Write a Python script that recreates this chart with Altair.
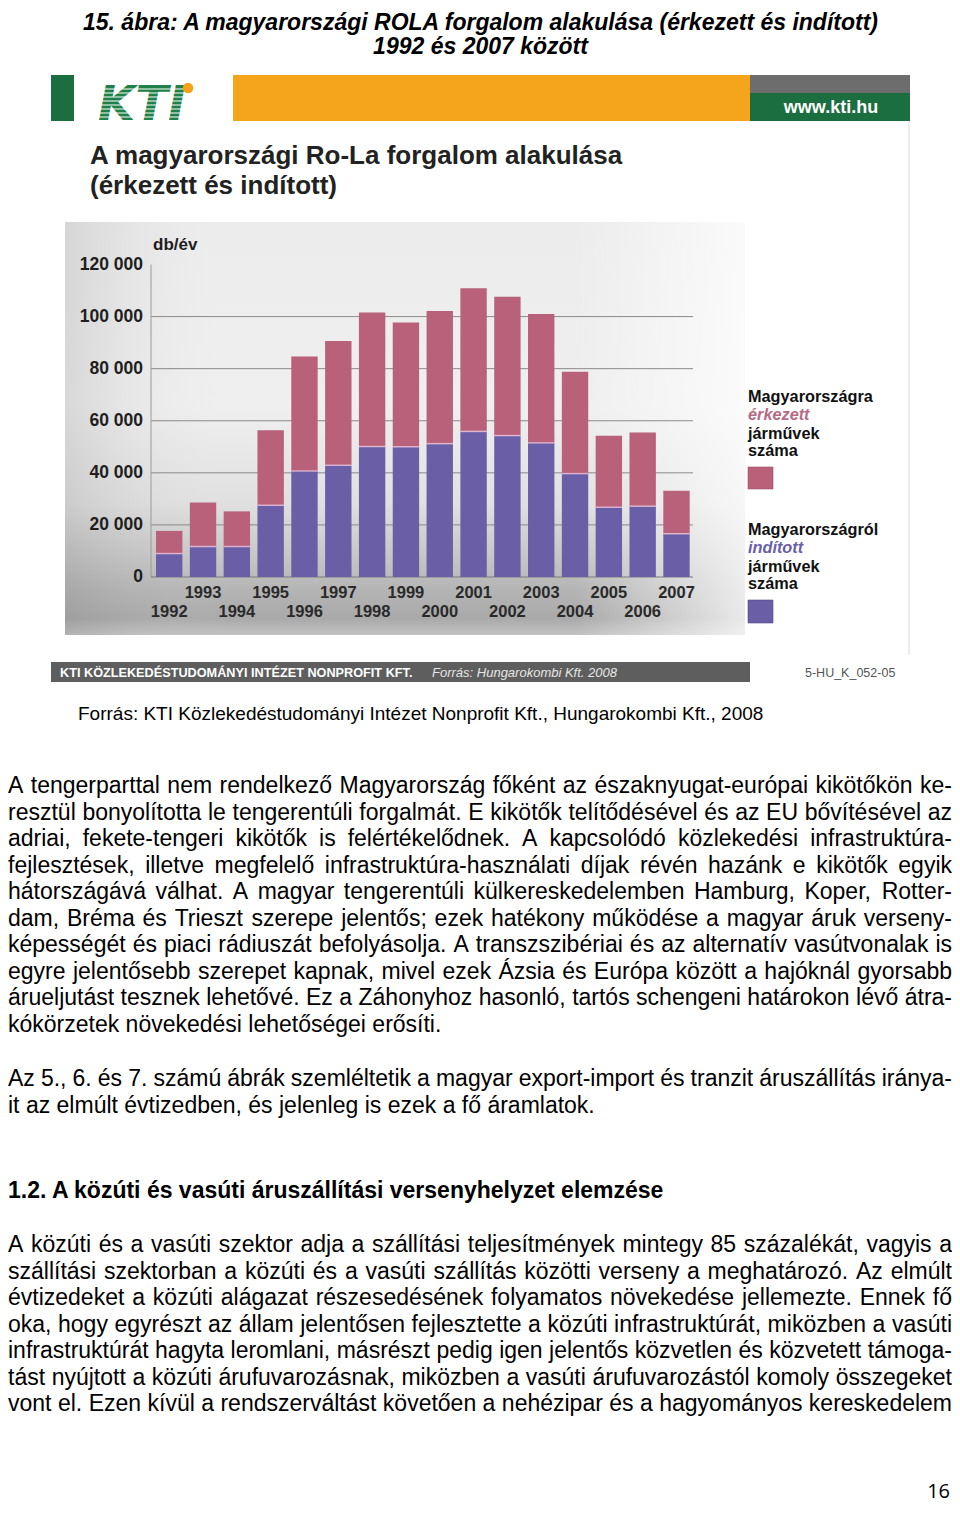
import altair as alt
import pandas as pd

# ---------------- data ----------------
years = [str(y) for y in range(1992, 2008)]
# Magyarországról indított járművek (kék)
inditott = [9000, 11700, 11700, 27600, 40700, 42900, 50100, 50000,
            51200, 55900, 54300, 51500, 39700, 26800, 27200, 16600]
# Magyarországra érkezett járművek (rózsaszín)
erkezett = [8700, 16900, 13500, 28800, 44000, 47700, 51500, 47700,
            50900, 55000, 53300, 49500, 39100, 27400, 28300, 16500]
y_ticks = [0, 20000, 40000, 60000, 80000, 100000, 120000]
y_tick_labels = ["0", "20 000", "40 000", "60 000", "80 000", "100 000", "120 000"]

page_title = ["15. ábra: A magyarországi ROLA forgalom alakulása (érkezett és indított)",
              "1992 és 2007 között"]
slide_title = ["A magyarországi Ro-La forgalom alakulása", "(érkezett és indított)"]
unit_label = "db/év"
legend_arrived = ["Magyarországra", "érkezett", "járművek", "száma"]
legend_departed = ["Magyarországról", "indított", "járművek", "száma"]
footer_org = "KTI KÖZLEKEDÉSTUDOMÁNYI INTÉZET NONPROFIT KFT."
footer_src = "Forrás: Hungarokombi Kft. 2008"
footer_code = "5-HU_K_052-05"
web = "www.kti.hu"
logo = "KTI"
source_line = "Forrás: KTI Közlekedéstudományi Intézet Nonprofit Kft., Hungarokombi Kft., 2008"

para1 = [
    "A tengerparttal nem rendelkező Magyarország főként az északnyugat-európai kikötőkön ke-",
    "resztül bonyolította le tengerentúli forgalmát. E kikötők telítődésével és az EU bővítésével az",
    "adriai, fekete-tengeri kikötők is felértékelődnek. A kapcsolódó közlekedési infrastruktúra-",
    "fejlesztések, illetve megfelelő infrastruktúra-használati díjak révén hazánk e kikötők egyik",
    "hátországává válhat. A magyar tengerentúli külkereskedelemben Hamburg, Koper, Rotter-",
    "dam, Bréma és Trieszt szerepe jelentős; ezek hatékony működése a magyar áruk verseny-",
    "képességét és piaci rádiuszát befolyásolja. A transzszibériai és az alternatív vasútvonalak is",
    "egyre jelentősebb szerepet kapnak, mivel ezek Ázsia és Európa között a hajóknál gyorsabb",
    "árueljutást tesznek lehetővé. Ez a Záhonyhoz hasonló, tartós schengeni határokon lévő átra-",
    "kókörzetek növekedési lehetőségei erősíti.",
]
para2 = [
    "Az 5., 6. és 7. számú ábrák szemléltetik a magyar export-import és tranzit áruszállítás iránya-",
    "it az elmúlt évtizedben, és jelenleg is ezek a fő áramlatok.",
]
heading = "1.2. A közúti és vasúti áruszállítási versenyhelyzet elemzése"
para3 = [
    "A közúti és a vasúti szektor adja a szállítási teljesítmények mintegy 85 százalékát, vagyis a",
    "szállítási szektorban a közúti és a vasúti szállítás közötti verseny a meghatározó. Az elmúlt",
    "évtizedeket a közúti alágazat részesedésének folyamatos növekedése jellemezte. Ennek fő",
    "oka, hogy egyrészt az állam jelentősen fejlesztette a közúti infrastruktúrát, miközben a vasúti",
    "infrastruktúrát hagyta leromlani, másrészt pedig igen jelentős közvetlen és közvetett támoga-",
    "tást nyújtott a közúti árufuvarozásnak, miközben a vasúti árufuvarozástól komoly összegeket",
    "vont el. Ezen kívül a rendszerváltást követően a nehézipar és a hagyományos kereskedelem",
]
page_no = "16"

# ---------------- helpers ----------------
M = 8  # page margin


def px(v):
    return v - M


def one():
    return alt.Data(values=[{}])


def rect(x, x2, y, y2, color, **kw):
    return alt.Chart(one()).mark_rect(color=color, **kw).encode(
        x=alt.value(px(x)), x2=alt.value(px(x2)), y=alt.value(px(y)), y2=alt.value(px(y2)))


def hline(x, x2, y, color, width=1.0):
    return alt.Chart(one()).mark_rule(color=color, strokeWidth=width).encode(
        x=alt.value(px(x)), x2=alt.value(px(x2)), y=alt.value(px(y)))


def label(text, x, y, size, **kw):
    kw.setdefault("font", "Liberation Sans")
    kw.setdefault("baseline", "middle")
    kw.setdefault("align", "left")
    kw.setdefault("color", "#111111")
    return alt.Chart(one()).mark_text(text=text, fontSize=size, **kw).encode(
        x=alt.value(px(x)), y=alt.value(px(y)))


# Arial / Liberation Sans advance widths (1/1000 em) for justification
W = {c: 556 for c in "abdeghnopqu0123456789áéóöőúüű"}
W.update({"c": 500, "k": 500, "s": 500, "v": 500, "x": 500, "y": 500, "z": 500,
          "f": 278, "t": 278, "í": 278, "i": 222, "j": 222, "l": 222, "m": 833,
          "r": 333, "w": 722,
          "A": 667, "B": 667, "C": 722, "D": 722, "E": 667, "F": 611, "G": 778, "H": 722,
          "I": 278, "J": 500, "K": 667, "L": 556, "M": 833, "N": 722, "O": 778, "P": 667,
          "Q": 778, "R": 722, "S": 667, "T": 611, "U": 722, "V": 667, "W": 944, "X": 667,
          "Y": 667, "Z": 611, "Á": 667, "É": 667, "Í": 278, "Ó": 778, "Ö": 778, "Ő": 778,
          "Ú": 722, "Ü": 722, "Ű": 722,
          " ": 278, ".": 278, ",": 278, ":": 278, ";": 278, "-": 333, "(": 333, ")": 333,
          "/": 278})


def tw(s, size):
    return sum(W.get(c, 556) for c in s) * size / 1000.0


def layout(lines, x0, x1, y0, lh, size, justify_last=False):
    rows = []
    for i, line in enumerate(lines):
        words = line.split(" ")
        widths = [tw(w, size) for w in words]
        last = (i == len(lines) - 1) and not justify_last
        if last or len(words) < 2:
            gap = tw(" ", size)
        else:
            gap = (x1 - x0 - sum(widths)) / (len(words) - 1)
            gap = max(gap, 0.6 * tw(" ", size))
        x = x0
        for w, wd in zip(words, widths):
            rows.append({"w": w, "x": px(x), "y": px(y0 + i * lh)})
            x += wd + gap
    return rows


# ---------------- chart data ----------------
df = pd.DataFrame({"year": years, "inditott": inditott, "erkezett": erkezett})
df["total"] = df["inditott"] + df["erkezett"]
ticks_df = pd.DataFrame({"v": y_ticks, "lab": y_tick_labels})

PINK = "#b9607b"
BLUE = "#6a5ea7"

yscale = alt.Scale(domain=[0, 120000], range=[px(577), px(264.5)])
xscale = alt.Scale(domain=years, range=[px(152.3), px(693.4)], paddingInner=0.22, paddingOuter=0.11)
X = alt.X("year:N", scale=xscale, axis=None)

layers = []

# page title (kept just below the page margin so nothing is cut)
layers.append(label(page_title[0], 480.5, 30, 23, align="center", baseline="alphabetic",
                    fontWeight="bold", fontStyle="italic", color="#000000"))
layers.append(label(page_title[1], 480.5, 54, 23, align="center", baseline="alphabetic",
                    fontWeight="bold", fontStyle="italic", color="#000000"))

# slide header
layers.append(rect(51, 74, 75, 121, "#1b6e40"))
layers.append(rect(233, 750, 75, 121, "#f4a51c"))
layers.append(rect(750, 910, 75, 93, "#6d6d6d"))
layers.append(rect(750, 910, 93, 121, "#1b6e40"))
layers.append(label(web, 831, 108, 18, align="center", fontWeight="bold", color="#ffffff"))
layers.append(label(logo, 142, 120, 48, align="center", baseline="alphabetic",
                    font="DejaVu Sans", fontWeight="bold", fontStyle="italic", color="#1f8049"))
for yy in [89, 93, 97, 101, 105, 109, 113, 117]:
    layers.append(hline(86, 202, yy, "#ffffff", 1.1))
layers.append(alt.Chart(one()).mark_circle(color="#f6a11a", opacity=1, size=110).encode(
    x=alt.value(px(188)), y=alt.value(px(88))))

# slide title
layers.append(label(slide_title[0], 90, 156, 26, fontWeight="bold", color="#222222"))
layers.append(label(slide_title[1], 90, 186, 26, fontWeight="bold", color="#222222"))

# chart photo background (approximation)
layers.append(rect(65, 745, 222, 635, alt.LinearGradient(
    gradient="linear", x1=0, x2=0, y1=0, y2=1,
    stops=[alt.GradientStop(color="#ececec", offset=0),
           alt.GradientStop(color="#efefef", offset=0.45),
           alt.GradientStop(color="#e0e0e0", offset=0.68),
           alt.GradientStop(color="#c8c8c8", offset=0.8),
           alt.GradientStop(color="#b3b3b3", offset=0.9),
           alt.GradientStop(color="#a9a9a9", offset=0.96),
           alt.GradientStop(color="#c2c2c2", offset=1)])))
layers.append(rect(65, 745, 222, 635, alt.LinearGradient(
    gradient="linear", x1=0, x2=1, y1=0, y2=0,
    stops=[alt.GradientStop(color="rgba(110,110,110,0.18)", offset=0),
           alt.GradientStop(color="rgba(255,255,255,0)", offset=0.25),
           alt.GradientStop(color="rgba(255,255,255,0)", offset=0.75),
           alt.GradientStop(color="rgba(255,255,255,0.75)", offset=1)])))

# gridlines, axis
layers.append(alt.Chart(ticks_df).transform_filter("datum.v > 0 && datum.v < 120000")
              .mark_rule(color="#8a8a8a", strokeWidth=1)
              .encode(y=alt.Y("v:Q", scale=yscale, axis=None),
                      x=alt.value(px(151)), x2=alt.value(px(693))))
layers.append(alt.Chart(one()).mark_rule(color="#9a9a9a", strokeWidth=1).encode(
    x=alt.value(px(151)), y=alt.value(px(264.5)), y2=alt.value(px(577))))
layers.append(alt.Chart(ticks_df).transform_filter("datum.v == 0")
              .mark_rule(color="#7a7a7a", strokeWidth=1)
              .encode(y=alt.Y("v:Q", scale=yscale, axis=None),
                      x=alt.value(px(151)), x2=alt.value(px(693))))
layers.append(alt.Chart(ticks_df).mark_text(align="right", baseline="middle", fontSize=17.5,
                                             fontWeight="bold", font="Liberation Sans",
                                             color="#1e1e1e")
              .encode(y=alt.Y("v:Q", scale=yscale, axis=None), x=alt.value(px(143)),
                      text="lab:N"))
layers.append(label(unit_label, 153, 245, 17, fontWeight="bold", color="#1e1e1e"))

# bars
base = alt.Chart(df)
layers.append(base.mark_bar(color=BLUE).encode(
    x=X, y=alt.Y("inditott:Q", scale=yscale, axis=None)))
layers.append(base.mark_bar(color=PINK).encode(
    x=X, y=alt.Y("total:Q", scale=yscale, axis=None), y2="inditott:Q"))
layers.append(base.mark_tick(color="#f3cfe3", thickness=1.5, size=26.4, orient="horizontal").encode(
    x=X, y=alt.Y("inditott:Q", scale=yscale, axis=None)))

# year labels
layers.append(base.transform_filter("toNumber(datum.year) % 2 == 1")
              .mark_text(fontSize=16.5, fontWeight="bold", font="Liberation Sans", color="#2a2a2a",
                         baseline="middle")
              .encode(x=X, y=alt.value(px(593)), text="year:N"))
layers.append(base.transform_filter("toNumber(datum.year) % 2 == 0")
              .mark_text(fontSize=16.5, fontWeight="bold", font="Liberation Sans", color="#2a2a2a",
                         baseline="middle")
              .encode(x=X, y=alt.value(px(612)), text="year:N"))

# legend
for i, (t, yy) in enumerate(zip(legend_arrived, [397, 415, 433.5, 450.5])):
    if i == 1:
        layers.append(label(t, 748, yy, 16.3, fontWeight="bold", fontStyle="italic", color="#b66a86"))
    else:
        layers.append(label(t, 748, yy, 16.3, fontWeight="bold", color="#111111"))
layers.append(rect(748, 773, 467, 489, "#bb6079", stroke="#9a4e66", strokeWidth=0.6))
for i, (t, yy) in enumerate(zip(legend_departed, [530, 548, 566.5, 583.5])):
    if i == 1:
        layers.append(label(t, 748, yy, 16.3, fontWeight="bold", fontStyle="italic", color="#6a5ea7"))
    else:
        layers.append(label(t, 748, yy, 16.3, fontWeight="bold", color="#111111"))
layers.append(rect(748, 773, 600, 623, "#6a5ea7", stroke="#564b8c", strokeWidth=0.6))

# slide right edge & footer bar
layers.append(alt.Chart(one()).mark_rule(color="#ededed", strokeWidth=2).encode(
    x=alt.value(px(909)), y=alt.value(px(121)), y2=alt.value(px(655))))
layers.append(rect(51, 750, 662, 682, "#5e5e5e"))
layers.append(label(footer_org, 60, 672.5, 12.7, fontWeight="bold", color="#ffffff"))
layers.append(label(footer_src, 432, 672.5, 13, fontStyle="italic", color="#e6e6e6"))
layers.append(label(footer_code, 805, 672.5, 12.5, color="#555555"))

# source line
layers.append(label(source_line, 78, 714, 19, color="#000000"))

# body text (justified)
BODY = 23
LH = 26.5
words = []
words += layout(para1, 8, 952, 793, LH, BODY)
words += layout(para2, 8, 952, 1086, LH, BODY)
words += layout(para3, 8, 952, 1252, LH, BODY, justify_last=True)
words_df = pd.DataFrame(words)
layers.append(alt.Chart(words_df).mark_text(align="left", baseline="alphabetic", fontSize=BODY,
                                             font="Liberation Sans", color="#000000")
              .encode(x=alt.X("x:Q", scale=None, axis=None),
                      y=alt.Y("y:Q", scale=None, axis=None),
                      text="w:N"))
layers.append(label(heading, 8, 1198, BODY, baseline="alphabetic", fontWeight="bold",
                    color="#000000"))
layers.append(label(page_no, 950, 1502, 20, align="right", baseline="bottom",
                    font="Open Sans", color="#000000"))

chart = alt.layer(*layers).properties(
    width=944, height=1497, padding=0,
    autosize=alt.AutoSizeParams(type="none"), background="white"
).configure_view(strokeWidth=0)

chart.save("out.html", embed_options={"renderer": "svg", "actions": False})
